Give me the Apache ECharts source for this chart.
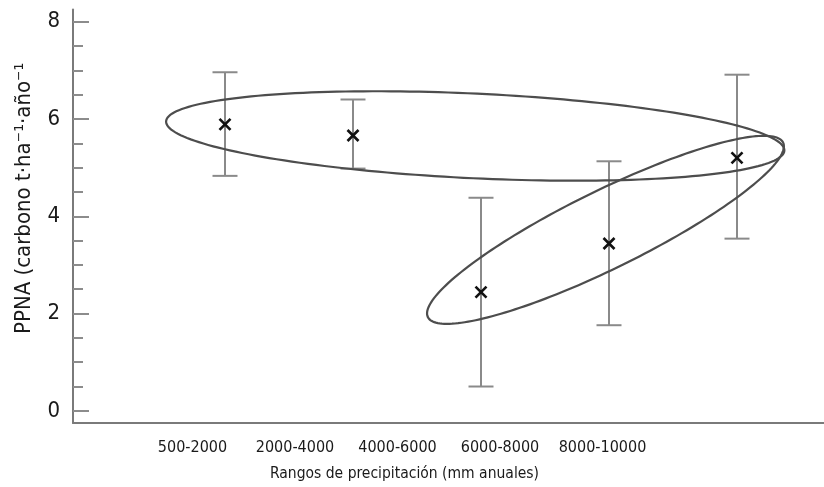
<!DOCTYPE html>
<html>
<head>
<meta charset="utf-8">
<script src="https://cdn.jsdelivr.net/npm/echarts@6/dist/echarts.min.js"></script>
<style>
html,body{margin:0;padding:0;background:#fff;}
#chart{width:824px;height:487px;}
</style>
</head>
<body>
<div id="chart"></div>
<script>
// ---- data ----
var categories = ['500-2000', '2000-4000', '4000-6000', '6000-8000', '8000-10000'];
var positions = [1, 2, 3, 4, 5];
var means = [5.89, 5.66, 2.44, 3.44, 5.20];
var upper = [6.96, 6.40, 4.38, 5.13, 6.91];
var lower = [4.83, 4.98, 0.50, 1.76, 3.54];
var yMajorTicks = [0, 2, 4, 6, 8];
var yMinorTicks = [0.5, 1, 1.5, 2.5, 3, 3.5, 4.5, 5, 5.5, 6.5, 7, 7.5];
// ellipses: major-axis end points (x1, y1, x2, y2) and minor half-axis (y units)
var ellipseA = [0.54, 5.95, 5.37, 5.35, 0.87];
var ellipseB = [2.585, 1.926, 5.36, 5.515, 0.80];

var FONT = '"DejaVu Sans Condensed", "DejaVu Sans", sans-serif';
var chart = echarts.init(document.getElementById('chart'), null, {renderer: 'canvas'});

var errData = positions.map(function (p, i) { return [p, lower[i], upper[i]]; });
var meanData = positions.map(function (p, i) { return [p, means[i]]; });

function renderEllipse(params, api) {
  var x1 = api.value(0), y1 = api.value(1), x2 = api.value(2), y2 = api.value(3), bv = api.value(4);
  var p1 = api.coord([x1, y1]);
  var p2 = api.coord([x2, y2]);
  var q = api.coord([x1, y1 + bv]);
  var b = Math.abs(q[1] - p1[1]);
  var cx = (p1[0] + p2[0]) / 2, cy = (p1[1] + p2[1]) / 2;
  var dx = p2[0] - p1[0], dy = p2[1] - p1[1];
  var a = Math.sqrt(dx * dx + dy * dy) / 2;
  var ang = Math.atan2(dy, dx);
  var c = Math.cos(ang), s = Math.sin(ang);
  var pts = [];
  for (var k = 0; k < 200; k++) {
    var t = k / 200 * Math.PI * 2;
    var u = a * Math.cos(t), v = b * Math.sin(t);
    pts.push([cx + u * c - v * s, cy + u * s + v * c]);
  }
  return {
    type: 'polygon',
    shape: {points: pts},
    style: {fill: null, stroke: '#4d4d4d', lineWidth: 2.2}
  };
}

var option = {
  animation: false,
  backgroundColor: '#fff',
  grid: {left: 73, right: 0, top: 9.5, bottom: 63},
  xAxis: [{
    type: 'value',
    min: -0.1875,
    max: 5.6797,
    axisLine: {show: true, onZero: false, lineStyle: {color: '#7a7a7a', width: 2}},
    axisTick: {show: false},
    axisLabel: {show: false},
    splitLine: {show: false},
    name: 'Rangos de precipitación (mm anuales)',
    nameLocation: 'middle',
    nameGap: 43,
    nameTextStyle: {fontFamily: FONT, fontSize: 15.5, color: '#1a1a1a', padding: [0, 88, 0, 0]}
  }, {
    type: 'value',
    position: 'bottom',
    min: -0.1659,
    max: 7.161,
    axisLine: {show: false, onZero: false},
    axisTick: {show: false},
    splitLine: {show: false},
    axisLabel: {
      customValues: positions,
      margin: 17,
      fontFamily: FONT, fontSize: 16, color: '#1a1a1a',
      formatter: function (v) { return categories[Math.round(v) - 1] || ''; }
    }
  }],
  yAxis: [{
    type: 'value',
    min: -0.25,
    max: 8.25,
    axisLine: {show: true, onZero: false, lineStyle: {color: '#7a7a7a', width: 2}},
    axisTick: {show: true, inside: true, length: 16, customValues: yMajorTicks, lineStyle: {color: '#8c8c8c', width: 2}},
    axisLabel: {customValues: yMajorTicks, margin: 13, fontFamily: FONT, fontSize: 22, color: '#1a1a1a'},
    splitLine: {show: false},
    name: 'PPNA (carbono t·ha⁻¹·año⁻¹',
    nameLocation: 'middle',
    nameRotate: 90,
    nameGap: 38,
    nameTextStyle: {fontFamily: FONT, fontSize: 22, color: '#1a1a1a', padding: [0, 0, 0, 36]}
  }, {
    type: 'value',
    position: 'left',
    offset: 0,
    min: -0.25,
    max: 8.25,
    axisLine: {show: false, onZero: false},
    axisTick: {show: true, inside: true, length: 10, customValues: yMinorTicks, lineStyle: {color: '#8c8c8c', width: 2}},
    axisLabel: {show: false},
    splitLine: {show: false}
  }],
  series: [{
    type: 'custom',
    name: 'ellipses',
    xAxisIndex: 0, yAxisIndex: 0,
    renderItem: renderEllipse,
    data: [ellipseA, ellipseB],
    silent: true, z: 3
  }, {
    type: 'custom',
    name: 'error',
    xAxisIndex: 0, yAxisIndex: 0,
    renderItem: function (params, api) {
      var lo = api.coord([api.value(0), api.value(1)]);
      var hi = api.coord([api.value(0), api.value(2)]);
      var w = 12.5;
      var st = {stroke: '#8a8a8a', lineWidth: 2};
      return {type: 'group', children: [
        {type: 'line', shape: {x1: lo[0], y1: lo[1], x2: hi[0], y2: hi[1]}, style: st},
        {type: 'line', shape: {x1: lo[0] - w, y1: lo[1], x2: lo[0] + w, y2: lo[1]}, style: st},
        {type: 'line', shape: {x1: hi[0] - w, y1: hi[1], x2: hi[0] + w, y2: hi[1]}, style: st}
      ]};
    },
    data: errData,
    silent: true, z: 2
  }, {
    type: 'custom',
    name: 'mean',
    xAxisIndex: 0, yAxisIndex: 0,
    renderItem: function (params, api) {
      var p = api.coord([api.value(0), api.value(1)]);
      var r = 5.5;
      var st = {stroke: '#111', lineWidth: 2.6};
      return {type: 'group', children: [
        {type: 'line', shape: {x1: p[0] - r, y1: p[1] - r, x2: p[0] + r, y2: p[1] + r}, style: st},
        {type: 'line', shape: {x1: p[0] - r, y1: p[1] + r, x2: p[0] + r, y2: p[1] - r}, style: st}
      ]};
    },
    data: meanData,
    silent: true, z: 4
  }]
};
chart.setOption(option);
</script>
</body>
</html>
